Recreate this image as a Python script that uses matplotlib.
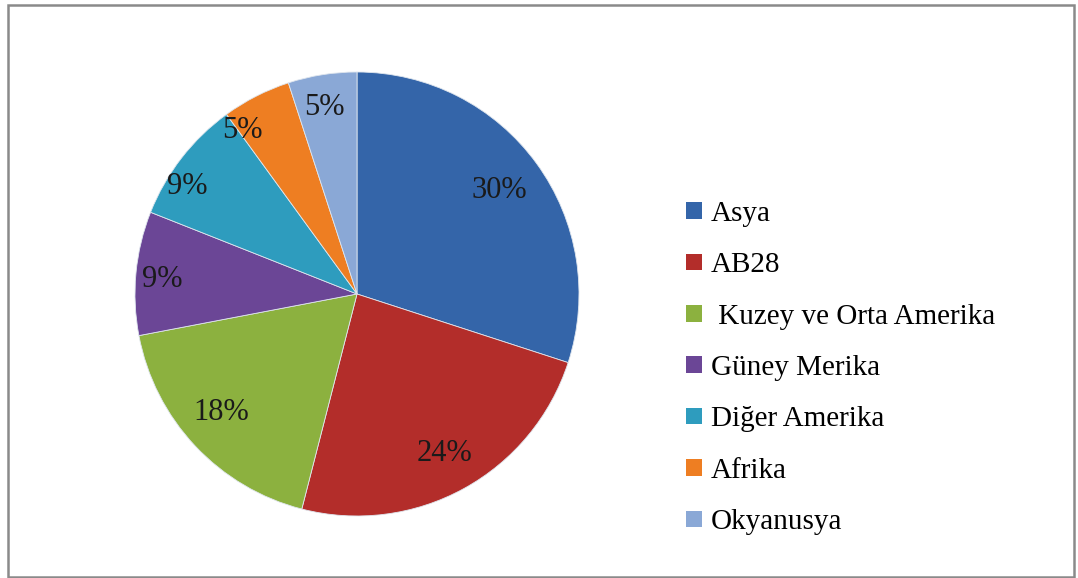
import numpy as np
import matplotlib.pyplot as plt
from matplotlib.patches import Rectangle, Patch

# data
regions = ['Asya', 'AB28', ' Kuzey ve Orta Amerika', 'Güney Merika',
           'Diğer Amerika', 'Afrika', 'Okyanusya']
shares = [30, 24, 18, 9, 9, 5, 5]
colors = ['#3465A9', '#B32D2A', '#8CB13F', '#6B4696', '#2E9CBE', '#EE7E22', '#8AA8D6']

# label placement per slice (radius fraction, angle shift in degrees), Excel "best fit" look
label_r = [0.79, 0.82, 0.81, 0.88, 0.905, 0.90, 0.855]
label_shift = [0, 0, -2, 1, 5.5, 8, 1]

plt.rcParams['font.family'] = ['Liberation Serif', 'DejaVu Serif']

W, H = 1078, 578
fig = plt.figure(figsize=(W / 100, H / 100), dpi=100)

# outer frame
fig.patches.append(Rectangle((8 / W, 0.002), (1074 - 8) / W, (574 - 2) / H,
                             transform=fig.transFigure, fill=False,
                             edgecolor='#8a8a8a', linewidth=1.8))

cx, cy, R = 357, 294, 222
ax = fig.add_axes([(cx - R) / W, (H - cy - R) / H, 2 * R / W, 2 * R / H])
wedges, texts, autotexts = ax.pie(shares, colors=colors, startangle=90,
                                  counterclock=False, autopct='%1.0f%%',
                                  pctdistance=0.82,
                                  wedgeprops=dict(edgecolor='#dfe6ee', linewidth=0.6),
                                  textprops=dict(fontsize=22, color='#1a1a1a'))
ax.set_xlim(-1, 1)
ax.set_ylim(-1, 1)
ax.set_aspect('equal')
ax.axis('off')

# move percent labels
for w, t, r, s in zip(wedges, autotexts, label_r, label_shift):
    ang = np.deg2rad((w.theta1 + w.theta2) / 2 + s)
    t.set_position((r * np.cos(ang), r * np.sin(ang)))

handles = [Patch(facecolor=c, edgecolor='none') for c in colors]
fig.legend(handles, regions, loc='upper left',
           bbox_to_anchor=(686 / W, 1 - 201 / H), frameon=False,
           prop={'size': 21}, handlelength=0.55, handleheight=0.5,
           handletextpad=0.3, labelspacing=0.87, borderpad=0, borderaxespad=0)

plt.savefig('out.png', dpi=100)
